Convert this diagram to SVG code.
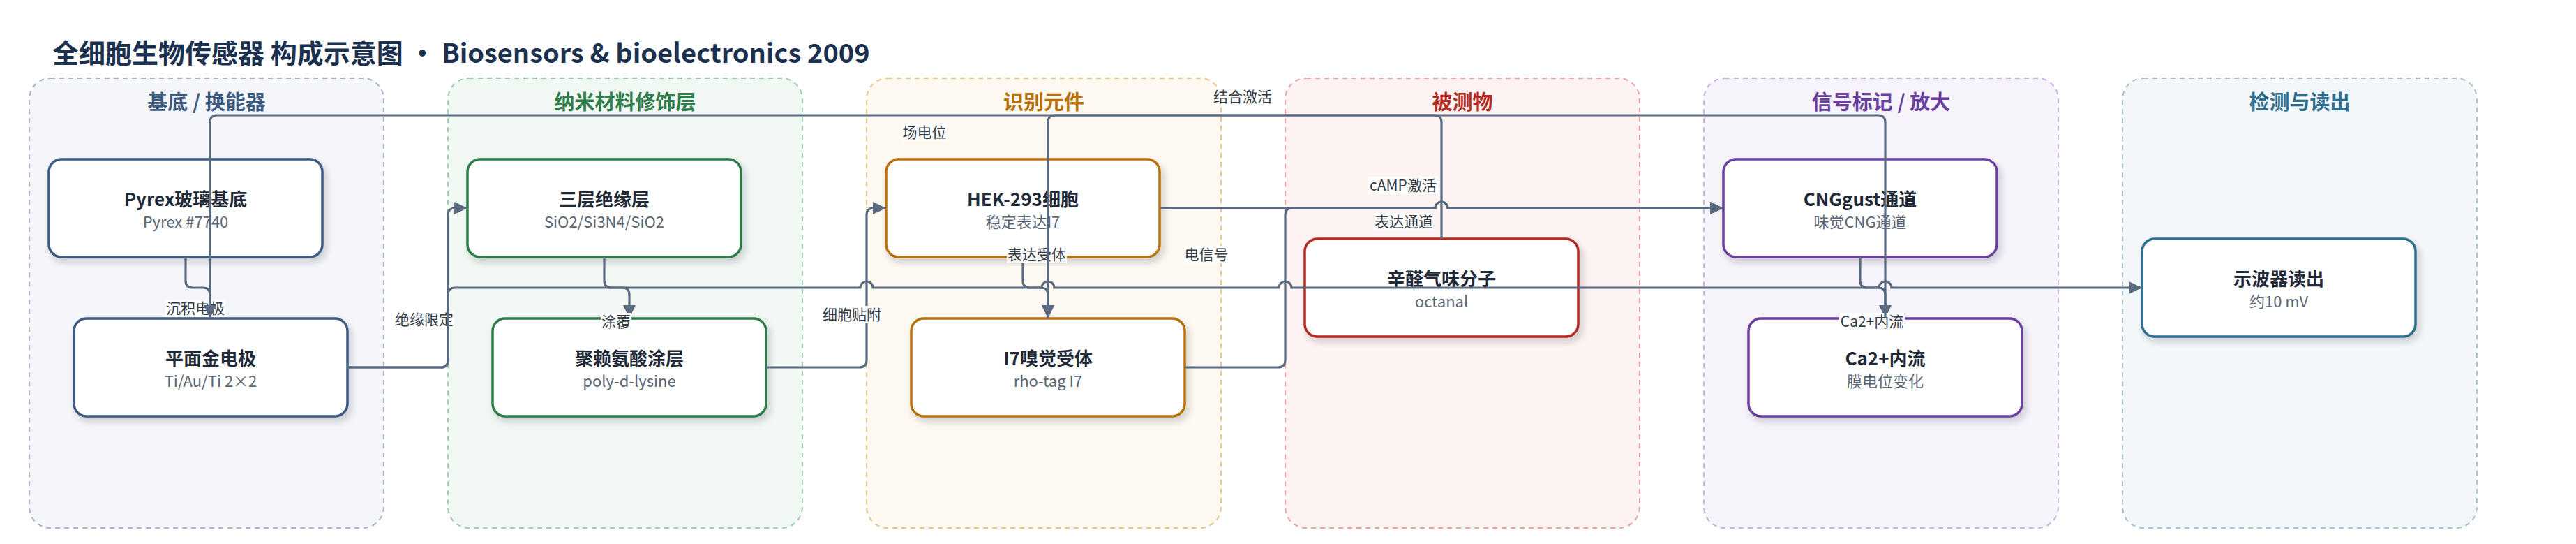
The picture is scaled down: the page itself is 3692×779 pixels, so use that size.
<svg xmlns="http://www.w3.org/2000/svg" width="3692" height="779" viewBox="0 0 3692 779">
<style>
text{font-family:"Noto Sans CJK SC","Noto Sans",sans-serif}
.title{font-size:38px;font-weight:700;fill:#1c3150}
.ct{font-size:29px;font-weight:700;text-anchor:middle}
.cl{stroke-width:2;stroke-dasharray:7 6}
.node rect{fill:#fff;stroke-width:3.5;filter:url(#sh)}
.nt{font-size:26px;font-weight:700;fill:#1f2937;text-anchor:middle}
.ns{font-size:22px;fill:#5b6675;text-anchor:middle}
.e{fill:none;stroke:#5a6a80;stroke-width:3.2}
.a{marker-end:url(#arr)}
.lb{fill:#fff;opacity:0.92}
.lt{font-size:21px;fill:#333b46;text-anchor:middle}
</style>
<defs>
<filter id="sh" x="-10%" y="-20%" width="125%" height="150%">
<feDropShadow dx="4" dy="6" stdDeviation="5" flood-color="#1f2937" flood-opacity="0.2"/>
</filter>
<marker id="arr" markerUnits="userSpaceOnUse" markerWidth="20" markerHeight="20" refX="19" refY="10" orient="auto">
<path d="M0,1 L19,10 L0,19 z" fill="#5a6a80"/>
</marker>
</defs>
<rect width="3692" height="779" fill="#fff"/>
<text class="title" x="75" y="90">全细胞生物传感器 构成示意图 • Biosensors &amp; bioelectronics 2009</text>

<g id="clusters">
<g id="c-substrate"><rect class="cl" x="42" y="112" width="508" height="644" rx="30" fill="#f4f6fa" stroke="#a7b5c9"/><text class="ct" x="296" y="157" fill="#3d5a80">基底 / 换能器</text></g>
<g id="c-nano"><rect class="cl" x="642" y="112" width="508" height="644" rx="30" fill="#f1f8f3" stroke="#9ccfae"/><text class="ct" x="896" y="157" fill="#2e7d4a">纳米材料修饰层</text></g>
<g id="c-recog"><rect class="cl" x="1242" y="112" width="508" height="644" rx="30" fill="#fdf8f0" stroke="#e9c58c"/><text class="ct" x="1496" y="157" fill="#b8720a">识别元件</text></g>
<g id="c-analyte"><rect class="cl" x="1842" y="112" width="508" height="644" rx="30" fill="#fdf3f3" stroke="#eaa3a3"/><text class="ct" x="2096" y="157" fill="#b22a22">被测物</text></g>
<g id="c-signal"><rect class="cl" x="2442" y="112" width="508" height="644" rx="30" fill="#f6f3fb" stroke="#c7b2e1"/><text class="ct" x="2696" y="157" fill="#6a3fa0">信号标记 / 放大</text></g>
<g id="c-readout"><rect class="cl" x="3042" y="112" width="508" height="644" rx="30" fill="#f3f7f9" stroke="#a6c3d2"/><text class="ct" x="3296" y="157" fill="#2e6e8e">检测与读出</text></g>
</g>

<g id="n-pyrex" class="node"><rect x="70" y="228" width="392" height="140" rx="18" stroke="#3d5a80"/><text class="nt" x="266" y="295">Pyrex玻璃基底</text><text class="ns" x="266" y="326">Pyrex #7740</text></g>
<g id="n-gold" class="node"><rect x="106" y="456" width="392" height="140" rx="18" stroke="#3d5a80"/><text class="nt" x="302" y="523">平面金电极</text><text class="ns" x="302" y="554">Ti/Au/Ti 2×2</text></g>
<g id="n-insul" class="node"><rect x="670" y="228" width="392" height="140" rx="18" stroke="#2e7d4a"/><text class="nt" x="866" y="295">三层绝缘层</text><text class="ns" x="866" y="326">SiO2/Si3N4/SiO2</text></g>
<g id="n-pdl" class="node"><rect x="706" y="456" width="392" height="140" rx="18" stroke="#2e7d4a"/><text class="nt" x="902" y="523">聚赖氨酸涂层</text><text class="ns" x="902" y="554">poly-d-lysine</text></g>
<g id="n-hek" class="node"><rect x="1270" y="228" width="392" height="140" rx="18" stroke="#b8720a"/><text class="nt" x="1466" y="295">HEK-293细胞</text><text class="ns" x="1466" y="326">稳定表达I7</text></g>
<g id="n-i7" class="node"><rect x="1306" y="456" width="392" height="140" rx="18" stroke="#b8720a"/><text class="nt" x="1502" y="523">I7嗅觉受体</text><text class="ns" x="1502" y="554">rho-tag I7</text></g>
<g id="n-octanal" class="node"><rect x="1870" y="342" width="392" height="140" rx="18" stroke="#b22a22"/><text class="nt" x="2066" y="409">辛醛气味分子</text><text class="ns" x="2066" y="440">octanal</text></g>
<g id="n-cng" class="node"><rect x="2470" y="228" width="392" height="140" rx="18" stroke="#6a3fa0"/><text class="nt" x="2666" y="295">CNGgust通道</text><text class="ns" x="2666" y="326">味觉CNG通道</text></g>
<g id="n-ca" class="node"><rect x="2506" y="456" width="392" height="140" rx="18" stroke="#6a3fa0"/><text class="nt" x="2702" y="523">Ca2+内流</text><text class="ns" x="2702" y="554">膜电位变化</text></g>
<g id="n-scope" class="node"><rect x="3070" y="342" width="392" height="140" rx="18" stroke="#2e6e8e"/><text class="nt" x="3266" y="409">示波器读出</text><text class="ns" x="3266" y="440">约10 mV</text></g>

<g id="connectors">
<path class="e a" d="M266,368 V402 Q266,412 276,412 H291 Q301,412 301,422 V456"/>
<rect class="lb" x="237" y="429" width="86" height="25"/><text class="lt" x="280" y="449">沉积电极</text>

<path class="e a" d="M498,526 H632 Q642,526 642,516 V308 Q642,298 652,298 H670"/>
<rect class="lb" x="565" y="445" width="86" height="25"/><text class="lt" x="608" y="465">绝缘限定</text>

<path class="e a" d="M498,526 H632 Q642,526 642,516 V422 Q642,412 652,412 H1233 A9,9 0 0,1 1251,412 H1493 A9,9 0 0,1 1511,412 H1833 A9,9 0 0,1 1851,412 H2693 A9,9 0 0,1 2711,412 H3070"/>
<rect class="lb" x="1697" y="352" width="64" height="25"/><text class="lt" x="1729" y="372">电信号</text>

<path class="e a" d="M866,368 V402 Q866,412 876,412 H892 Q902,412 902,422 V456"/>
<rect class="lb" x="861" y="448" width="44" height="25"/><text class="lt" x="883" y="468">涂覆</text>

<path class="e a" d="M1098,526 H1232 Q1242,526 1242,516 V308 Q1242,298 1252,298 H1270"/>
<rect class="lb" x="1178" y="438" width="86" height="25"/><text class="lt" x="1221" y="458">细胞贴附</text>

<path class="e a" d="M1466,368 V402 Q1466,412 1476,412 H1492 Q1502,412 1502,422 V456"/>
<rect class="lb" x="1443" y="352" width="86" height="25"/><text class="lt" x="1486" y="372">表达受体</text>

<path class="e a" d="M1662,298 H2057 A9,9 0 0,1 2075,298 H2470"/>
<rect class="lb" x="1969" y="305" width="86" height="25"/><text class="lt" x="2012" y="325">表达通道</text>

<path class="e a" d="M1698,526 H1832 Q1842,526 1842,516 V308 Q1842,298 1852,298 H2057 A9,9 0 0,1 2075,298 H2470"/>
<rect class="lb" x="1960" y="253" width="102" height="25"/><text class="lt" x="2011" y="273">cAMP激活</text>

<path class="e a" d="M2666,368 V402 Q2666,412 2676,412 H2692 Q2702,412 2702,422 V456"/>
<rect class="lb" x="2636" y="448" width="94" height="25"/><text class="lt" x="2683" y="468">Ca2+内流</text>

<rect class="lb" x="1738" y="126" width="86" height="25"/><text class="lt" x="1781" y="146">结合激活</text>
<rect class="lb" x="1293" y="177" width="64" height="25"/><text class="lt" x="1325" y="197">场电位</text>

<path class="e a" d="M2066,342 V175 Q2066,165 2056,165 H1512 Q1502,165 1502,175 V456"/>
<path class="e a" d="M2702,456 V175 Q2702,165 2692,165 H311 Q301,165 301,175 V456"/>
</g>
</svg>
